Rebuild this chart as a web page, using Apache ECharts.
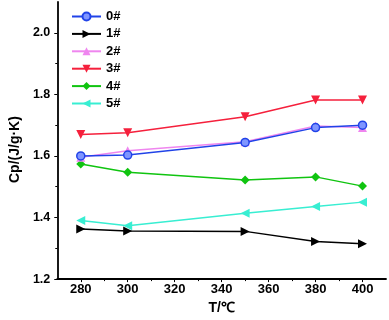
<!DOCTYPE html>
<html>
<head>
<meta charset="utf-8">
<script src="https://cdn.jsdelivr.net/npm/echarts@6/dist/echarts.min.js"></script>
<style>html,body{margin:0;padding:0;background:#fff;}#c{width:389px;height:320px;}</style>
</head>
<body>
<div id="c"></div>
<script>
var temps = [280, 300, 350, 380, 400];
var seriesNames = ['0#', '1#', '2#', '3#', '4#', '5#'];
var s0 = [1.600, 1.603, 1.644, 1.692, 1.700];
var s1 = [1.363, 1.356, 1.355, 1.322, 1.315];
var s2 = [1.596, 1.617, 1.646, 1.697, 1.692];
var s3 = [1.670, 1.675, 1.727, 1.782, 1.782];
var s4 = [1.574, 1.547, 1.522, 1.532, 1.502];
var s5 = [1.390, 1.373, 1.414, 1.436, 1.450];
var xTickLabels = [280, 300, 320, 340, 360, 380, 400];
var xMinorTicks = [290, 310, 330, 350, 370, 390];
var yTickLabels = [1.2, 1.4, 1.6, 1.8, 2.0];
var yMinorTicks = [1.3, 1.5, 1.7, 1.9];

var values = [s0, s1, s2, s3, s4, s5];
var colors = ['#2143e8', '#000000', '#ef86ef', '#f5203c', '#10c410', '#38eed2'];
var symbols = ['circle', 'triangle', 'triangle', 'triangle', 'diamond', 'triangle'];
var rotates = [0, -90, 0, 180, 0, 90];
var sizes = [8, 9, 9, 9, 9, 9];

function pairs(arr) { return temps.map(function (t, i) { return [t, arr[i]]; }); }

var series = values.map(function (v, i) {
  return {
    name: seriesNames[i], type: 'line', data: pairs(v),
    symbol: symbols[i], symbolRotate: rotates[i], symbolSize: sizes[i],
    lineStyle: { color: colors[i], width: 1.5 },
    itemStyle: i === 0 ? { color: '#7f95ff', borderColor: colors[i], borderWidth: 1.5 } : { color: colors[i] },
    emphasis: { disabled: true },
    z: 10 - i
  };
});

var chart = echarts.init(document.getElementById('c'), null, { renderer: 'canvas' });
var font = 'Liberation Sans';
chart.setOption({
  animation: false,
  backgroundColor: '#fff',
  grid: { left: 44, right: 3, top: 2, bottom: 40 },
  legend: {
    left: 66, top: 5, orient: 'vertical',
    itemWidth: 29, itemHeight: 10, itemGap: 4.4,
    textStyle: { fontFamily: font, fontWeight: 'bold', fontSize: 13, color: '#000' },
    data: seriesNames
  },
  xAxis: [{
    type: 'value', min: 270, max: 410,
    name: 'T/℃', nameLocation: 'middle', nameGap: 18,
    nameTextStyle: { fontFamily: font, fontWeight: 'bold', fontSize: 14, color: '#000' },
    axisLine: { show: true, onZero: false, lineStyle: { color: '#000', width: 1.8 } },
    axisTick: { show: true, length: 3, customValues: xTickLabels, lineStyle: { color: '#000', width: 1 } },
    axisLabel: { customValues: xTickLabels, margin: 4, fontFamily: font, fontWeight: 'bold', fontSize: 13, color: '#000' },
    splitLine: { show: false }
  }, {
    type: 'value', min: 270, max: 410, position: 'bottom',
    axisLine: { show: false },
    axisTick: { show: true, length: 2, customValues: xMinorTicks, lineStyle: { color: '#000', width: 1 } },
    axisLabel: { show: false },
    splitLine: { show: false }
  }],
  yAxis: [{
    type: 'value', min: 1.2, max: 2.1,
    name: 'Cp/(J/g·K)', nameLocation: 'middle', nameGap: 26, nameRotate: 90,
    nameTextStyle: { fontFamily: font, fontWeight: 'bold', fontSize: 14, color: '#000', padding: [0, 18, 0, 0] },
    axisLine: { show: true, onZero: false, lineStyle: { color: '#000', width: 1.8 } },
    axisTick: { show: true, length: 3, customValues: yTickLabels, lineStyle: { color: '#000', width: 1 } },
    axisLabel: { customValues: yTickLabels, margin: 7, fontFamily: font, fontWeight: 'bold', fontSize: 12.5, color: '#000',
      formatter: function (v) { return v.toFixed(1); } },
    splitLine: { show: false }
  }, {
    type: 'value', min: 1.2, max: 2.1, position: 'left',
    axisLine: { show: false },
    axisTick: { show: true, length: 2, customValues: yMinorTicks, lineStyle: { color: '#000', width: 1 } },
    axisLabel: { show: false },
    splitLine: { show: false }
  }],
  series: series
});
</script>
</body>
</html>
